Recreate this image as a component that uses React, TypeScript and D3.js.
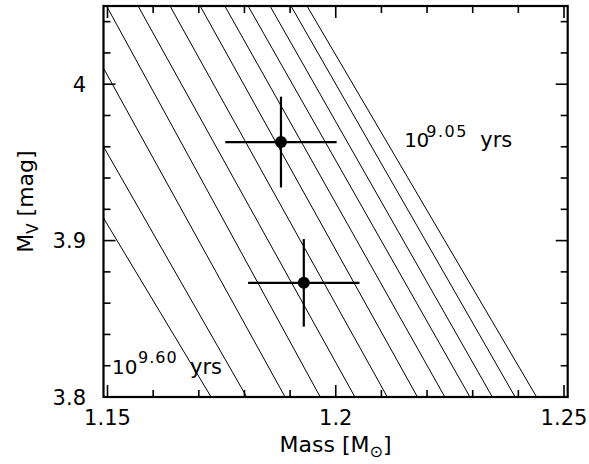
import * as d3 from "d3";

// isochrones, log(age) 9.05 .. 9.60, each a straight track between MV = 3.8 and MV = 4.05
const isoAges = ["9.05", "9.10", "9.15", "9.20", "9.25", "9.30", "9.35", "9.40", "9.45", "9.50", "9.55", "9.60"];
const isoMv = [3.8, 4.05];
const isoMassBottom = [1.244, 1.2393, 1.2343, 1.2294, 1.2239, 1.2179, 1.2113, 1.2042, 1.1966, 1.1889, 1.1805, 1.1727];
const isoMassTop = [1.1937, 1.1902, 1.1856, 1.1808, 1.1757, 1.1703, 1.1637, 1.1567, 1.1498, 1.1416, 1.1315, 1.1212];

// the two stars
const starMass = [1.188, 1.193];
const starMassErr = [0.0122, 0.0122];
const starMv = [3.963, 3.873];
const starMvErr = [0.029, 0.028];

const xMajor = [1.15, 1.2, 1.25];
const yMajor = [3.8, 3.9, 4.0];

const W = 589;
const H = 464;
const FONT = "'DejaVu Sans', sans-serif";

export default function App() {
  const x = d3.scaleLinear().domain([1.149124, 1.250811]).range([103.5, 567.7]);
  const y = d3.scaleLinear().domain([3.8, 4.05]).range([397, 6]);
  const [x0, x1] = x.range();
  const [y0, y1] = y.range();

  const line = d3
    .line<[number, number]>()
    .x((d) => x(d[0]))
    .y((d) => y(d[1]));

  const isoLines = isoAges.map((age, i) => ({
    age,
    pts: [
      [isoMassBottom[i], isoMv[0]],
      [isoMassTop[i], isoMv[1]],
    ] as [number, number][],
  }));

  const xMinor = d3.range(0, 11).map((i) => +(1.15 + i * 0.01).toFixed(2));
  const yMinor = d3.range(0, 13).map((i) => +(3.8 + i * 0.02).toFixed(2));
  const isMaj = (arr: number[], v: number) => arr.some((m) => Math.abs(m - v) < 1e-6);

  const stars = starMass.map((m, i) => ({ m, dm: starMassErr[i], v: starMv[i], dv: starMvErr[i] }));

  // age labels, anchored in data units
  const lab905 = { px: x(1.215), py: y(3.96) };
  const lab960 = { px: x(1.151), py: y(3.8147) };

  return (
    <svg
      width={W}
      height={H}
      style={{ position: "absolute", left: 0, top: 0, background: "#fff" }}
      fontFamily={FONT}
    >
      <defs>
        <clipPath id="plotArea">
          <rect x={x0} y={y1} width={x1 - x0} height={y0 - y1} />
        </clipPath>
      </defs>

      {/* isochrones */}
      <g clipPath="url(#plotArea)">
        {isoLines.map((l) => (
          <path key={l.age} d={line(l.pts) || ""} fill="none" stroke="#000" strokeWidth={1} />
        ))}
      </g>

      {/* stars with error bars */}
      {stars.map((s, i) => (
        <g key={i} stroke="#000" strokeWidth={2.2}>
          <line x1={x(s.m - s.dm)} x2={x(s.m + s.dm)} y1={y(s.v)} y2={y(s.v)} />
          <line x1={x(s.m)} x2={x(s.m)} y1={y(s.v - s.dv)} y2={y(s.v + s.dv)} />
          <circle cx={x(s.m)} cy={y(s.v)} r={6} fill="#000" stroke="none" />
        </g>
      ))}

      {/* ticks */}
      <g stroke="#000" strokeWidth={1.6}>
        {xMinor.map((v) => {
          const len = isMaj(xMajor, v) ? 12 : 7;
          return (
            <g key={"x" + v}>
              <line x1={x(v)} x2={x(v)} y1={y0} y2={y0 - len} />
              <line x1={x(v)} x2={x(v)} y1={y1} y2={y1 + len} />
            </g>
          );
        })}
        {yMinor.map((v) => {
          const len = isMaj(yMajor, v) ? 12 : 7;
          return (
            <g key={"y" + v}>
              <line x1={x0} x2={x0 + len} y1={y(v)} y2={y(v)} />
              <line x1={x1} x2={x1 - len} y1={y(v)} y2={y(v)} />
            </g>
          );
        })}
      </g>

      {/* frame */}
      <rect x={x0} y={y1} width={x1 - x0} height={y0 - y1} fill="none" stroke="#000" strokeWidth={2.2} />

      {/* tick labels */}
      <g fontSize={21} fill="#000">
        {xMajor.map((v) => (
          <text key={"xl" + v} x={x(v)} y={425} textAnchor="middle">
            {d3.format("")(v)}
          </text>
        ))}
        {yMajor.map((v) => (
          <text key={"yl" + v} x={86} y={y(v)} dy="0.36em" textAnchor="end">
            {d3.format("")(v)}
          </text>
        ))}
      </g>

      {/* axis titles */}
      <text x={(x0 + x1) / 2} y={452} textAnchor="middle" fontSize={22}>
        Mass [M
        <tspan fontSize={16} dy={5}>
          ⊙
        </tspan>
        <tspan dy={-5}>]</tspan>
      </text>
      <text transform={`translate(33,${(y0 + y1) / 2}) rotate(-90)`} textAnchor="middle" fontSize={22}>
        M
        <tspan fontSize={15} dy={5}>
          V
        </tspan>
        <tspan dy={-5}> [mag]</tspan>
      </text>

      {/* age labels */}
      <g fill="#000">
        <text x={lab905.px} y={lab905.py} fontSize={20} letterSpacing={-0.5}>
          10
        </text>
        <text x={lab905.px + 22} y={lab905.py - 10} fontSize={16} letterSpacing={1.5}>
          {isoAges[0]}
        </text>
        <text x={lab905.px + 76} y={lab905.py} fontSize={21}>
          yrs
        </text>

        <text x={lab960.px} y={lab960.py} fontSize={20}>
          10
        </text>
        <text x={lab960.px + 26} y={lab960.py - 11} fontSize={16} letterSpacing={1}>
          {isoAges[isoAges.length - 1]}
        </text>
        <text x={lab960.px + 78} y={lab960.py} fontSize={21}>
          yrs
        </text>
      </g>
    </svg>
  );
}
